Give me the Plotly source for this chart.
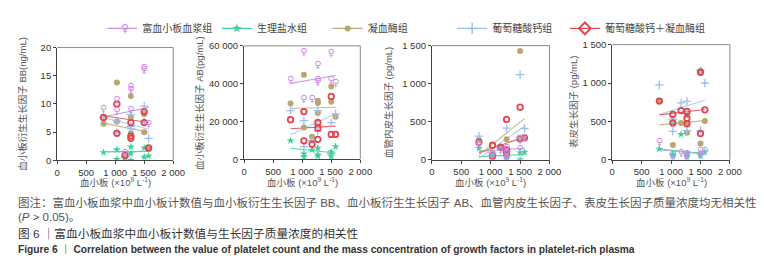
import plotly.graph_objects as go

W, H = 764, 265

# ---------------- data ----------------
GROUPS = ["富血小板血浆组", "生理盐水组", "凝血酶组", "葡萄糖酸钙组", "葡萄糖酸钙＋凝血酶组"]
PLT = [800, 1030, 1030, 1170, 1270, 1270, 1270, 1500, 1500, 1575]
FIT_X = [800, 1575]

# PDGF-BB (ng/mL)
BB_prp = [9.0, 8.6, 10.7, 1.3, 12.9, 12.4, 8.9, 16.3, 15.9, 6.4]
BB_sal = [1.4, 1.9, 0.2, 0.4, 2.4, 0.0, 1.2, 2.2, 0.6, 0.8]
BB_thr = [6.5, 13.8, 6.9, 0.6, 11.4, 7.6, 4.8, 5.0, 8.2, 2.0]
BB_cal = [7.6, 4.9, 7.0, 0.6, 5.6, 8.1, 6.0, 9.6, 6.8, 3.9]
BB_red = [7.6, 10.0, 4.8, 0.9, 6.7, 4.3, 3.9, 8.6, 6.7, 2.2]
BB_fit = [[7.7, 9.4], [1.5, 1.6], [6.6, 5.0], [7.6, 5.5], [7.9, 6.7]]

# PDGF-AB (pg/mL)
AB_prp = [41700, 56600, 31600, 31600, 49500, 41700, 40600, 56100, 41700, 40200]
AB_sal = [10000, 3000, 1500, 5000, 6000, 2500, 1800, 4000, 1500, 6800]
AB_thr = [29600, 44800, 16900, 12000, 31000, 29800, 24500, 38500, 30500, 22500]
AB_cal = [25800, 20500, 6800, 10000, 25800, 18000, 15000, 19400, 3000, 24000]
AB_red = [21000, 25300, 9800, 8000, 19500, 16500, 10600, 33300, 13200, 13200]
AB_fit = [[40200, 44400], [5900, 3400], [26900, 27600], [13000, 24200], [16200, 17600]]

# VEGF (pg/mL)
VE_prp = [200, 60, 30, 120, 150, 80, 20, 270, 130, 280]
VE_sal = [150, 5, 40, 165, 35, 10, 60, 90, 0, 100]
VE_thr = [260, 90, 60, 175, 270, 130, 60, 1430, 260, 290]
VE_cal = [310, 90, 40, 150, 415, 110, 50, 1120, 260, 410]
VE_red = [230, 190, 50, 160, 530, 130, 90, 690, 280, 290]
VE_fit = [[110, 150], [40, 70], [60, 540], [20, 440], [90, 300]]

# EGF (pg/mL)
EG_prp = [230, 60, 30, 80, 70, 50, 30, 110, 60, 110]
EG_sal = [140, 70, 50, 330, 60, 40, 80, 80, 50, 100]
EG_thr = [770, 480, 190, 480, 580, 480, 350, 1160, 210, 505]
EG_cal = [975, 370, 530, 740, 760, 600, 380, 380, 1165, 1000]
EG_red = [765, 590, 480, 640, 630, 540, 470, 1140, 340, 650]
EG_fit = [[130, 70], [140, 80], [454, 510], [590, 775], [585, 655]]

YTITLES = ["血小板衍生生长因子 BB(ng/mL)", "血小板衍生生长因子 AB(pg/mL)",
           "血管内皮生长因子 (pg/mL)", "表皮生长因子 (pg/mL)"]
YTICKS = [[0, 5, 10, 15, 20], [0, 20000, 40000, 60000], [0, 500, 1000, 1500], [0, 500, 1000, 1500]]
YTEXT = [["0", "5", "10", "15", "20"], ["0", "20 000", "40 000", "60 000"],
         ["0", "500", "1 000", "1 500"], ["0", "500", "1 000", "1 500"]]
XTICKS = [0, 500, 1000, 1500, 2000]
XTEXT = ["0", "500", "1 000", "1 500", "2 000"]

# ---------------- style ----------------
COL = ["#cf8be9", "#3ecf9e", "#b8a671", "#9cbfe9", "#e0454e"]
LCOL = ["#c99ee6", "#52d3a8", "#c8b98e", "#b3cdee", "#e0646b"]
FONT = "Liberation Sans, Noto Sans CJK SC, sans-serif"

# panel boxes in pixels: x0, x1, ytop, ybottom
BOX = [(47, 165.5, 35, 152.7), (237.7, 356.3, 33.3, 151.7),
       (429.3, 549.3, 33, 152), (613.3, 733.3, 32, 152)]
YTITLE_X = [12, 192, 385, 573]

PANELS = [
    [BB_prp, BB_sal, BB_thr, BB_cal, BB_red],
    [AB_prp, AB_sal, AB_thr, AB_cal, AB_red],
    [VE_prp, VE_sal, VE_thr, VE_cal, VE_red],
    [EG_prp, EG_sal, EG_thr, EG_cal, EG_red],
]
FITS = [BB_fit, AB_fit, VE_fit, EG_fit]

fig = go.Figure()
annotations = []
shapes = []

for p in range(4):
    sfx = "" if p == 0 else str(p + 1)
    xa, ya = "x" + sfx, "y" + sfx
    x0, x1, yt, yb = BOX[p]
    # regression lines
    for g in range(5):
        fig.add_trace(go.Scatter(x=FIT_X, y=FITS[p][g], mode="lines",
                                 line=dict(color=LCOL[g], width=1.1),
                                 xaxis=xa, yaxis=ya, showlegend=False, hoverinfo="skip"))
    vals = PANELS[p]
    # thrombin (filled circle)
    fig.add_trace(go.Scatter(x=PLT, y=vals[2], mode="markers",
                             marker=dict(symbol="circle", size=6, color=COL[2]),
                             xaxis=xa, yaxis=ya, showlegend=False))
    # calcium (cross)
    fig.add_trace(go.Scatter(x=PLT, y=vals[3], mode="markers",
                             marker=dict(symbol="cross-thin-open", size=6, color=COL[3],
                                         line=dict(color=COL[3], width=1.3)),
                             xaxis=xa, yaxis=ya, showlegend=False))
    # saline (star)
    fig.add_trace(go.Scatter(x=PLT, y=vals[1], mode="markers",
                             marker=dict(symbol="star", size=6, color=COL[1]),
                             xaxis=xa, yaxis=ya, showlegend=False))
    # calcium + thrombin (ring)
    fig.add_trace(go.Scatter(x=PLT, y=vals[4], mode="markers",
                             marker=dict(symbol="circle-open", size=5.5, color=COL[4],
                                         line=dict(color=COL[4], width=1.8)),
                             xaxis=xa, yaxis=ya, showlegend=False))
    # PRP (female sign)
    fig.add_trace(go.Scatter(x=PLT, y=vals[0], mode="text", text=["♀"] * len(PLT),
                             textposition="middle center",
                             textfont=dict(family="DejaVu Sans", size=10, color=COL[0]),
                             xaxis=xa, yaxis=ya, showlegend=False, hoverinfo="skip"))

    axcommon = dict(showline=True, linecolor="#444", linewidth=1, ticks="outside",
                    ticklen=3, tickcolor="#444", tickwidth=1, showgrid=False, zeroline=False,
                    tickfont=dict(family=FONT, size=9.5, color="#333"))
    fig.layout["xaxis" + sfx] = dict(domain=[x0 / W, x1 / W], anchor=ya, range=[0, 2000],
                                     tickvals=XTICKS, ticktext=XTEXT, **axcommon)
    yr = YTICKS[p][-1]
    fig.layout["yaxis" + sfx] = dict(domain=[1 - yb / H, 1 - yt / H], anchor=xa, range=[0, yr],
                                     tickvals=YTICKS[p], ticktext=YTEXT[p], **axcommon)
    # top and right frame
    shapes.append(dict(type="line", xref=xa + " domain", yref=ya + " domain",
                       x0=0, x1=1, y0=1, y1=1, line=dict(color="#8a8a8a", width=1)))
    shapes.append(dict(type="line", xref=xa + " domain", yref=ya + " domain",
                       x0=1, x1=1, y0=0, y1=1, line=dict(color="#8a8a8a", width=1)))
    # axis titles
    annotations.append(dict(text=YTITLES[p], textangle=-90, xref="paper", yref="paper",
                            x=YTITLE_X[p] / W, y=1 - ((yt + yb) / 2) / H, showarrow=False,
                            xanchor="center", yanchor="middle",
                            font=dict(family=FONT, size=9.5, color="#555")))
    annotations.append(dict(text="血小板 (×10<sup>9</sup> L<sup>-1</sup>)", xref="paper", yref="paper",
                            x=((x0 + x1) / 2) / W, y=1 - 175 / H, showarrow=False,
                            xanchor="center", yanchor="middle",
                            font=dict(family=FONT, size=9.5, color="#555")))

# legend (one legend per item for exact placement)
LEG_X = [93, 210, 323, 450, 565]
LEG_SYM = [None, dict(symbol="star", size=7, color=COL[1]),
           dict(symbol="circle", size=6, color=COL[2]),
           dict(symbol="cross-thin-open", size=8, color=COL[3], line=dict(color=COL[3], width=1.5)),
           dict(symbol="diamond-open", size=9, color=COL[4], line=dict(color=COL[4], width=2))]
for g in range(5):
    lname = "legend" if g == 0 else "legend" + str(g + 1)
    tr = dict(x=[None], y=[None], name=GROUPS[g], legend=lname, showlegend=True,
              line=dict(color=COL[g], width=1.2))
    if LEG_SYM[g] is None:
        tr["mode"] = "lines"
    else:
        tr["mode"] = "lines+markers"
        tr["marker"] = LEG_SYM[g]
    fig.add_trace(go.Scatter(**tr))
    fig.layout[lname] = dict(x=LEG_X[g] / W, y=1 - 15 / H, xanchor="left", yanchor="middle",
                             orientation="h", bgcolor="rgba(0,0,0,0)", itemwidth=30,
                             font=dict(family=FONT, size=10, color="#444"))
annotations.append(dict(text="♀", xref="paper", yref="paper", x=(LEG_X[0] + 23) / W, y=1 - 15 / H,
                        showarrow=False, xanchor="center", yanchor="middle",
                        font=dict(family="DejaVu Sans", size=11, color=COL[0])))

# captions
CAP1 = "图注：富血小板血浆中血小板计数值与血小板衍生生长因子 BB、血小板衍生生长因子 AB、血管内皮生长因子、表皮生长因子质量浓度均无相关性"
CAP2 = "(<i>P</i> > 0.05)。"
CAP3 = "图 6 ｜富血小板血浆中血小板计数值与生长因子质量浓度的相关性"
CAP4 = "<b>Figure 6 ｜ Correlation between the value of platelet count and the mass concentration of growth factors in platelet-rich plasma</b>"
for txt, yy, sz, col in [(CAP1, 197, 11.5, "#555"), (CAP2, 212, 11.5, "#555"),
                         (CAP3, 229, 11.7, "#333"), (CAP4, 245, 10.2, "#333")]:
    annotations.append(dict(text=txt, xref="paper", yref="paper", x=5 / W, y=1 - yy / H,
                            showarrow=False, xanchor="left", yanchor="middle",
                            font=dict(family=FONT, size=sz, color=col)))

fig.update_layout(width=W, height=H, margin=dict(l=0, r=0, t=0, b=0),
                  paper_bgcolor="white", plot_bgcolor="white",
                  annotations=annotations, shapes=shapes)
fig.write_html("out.html")
